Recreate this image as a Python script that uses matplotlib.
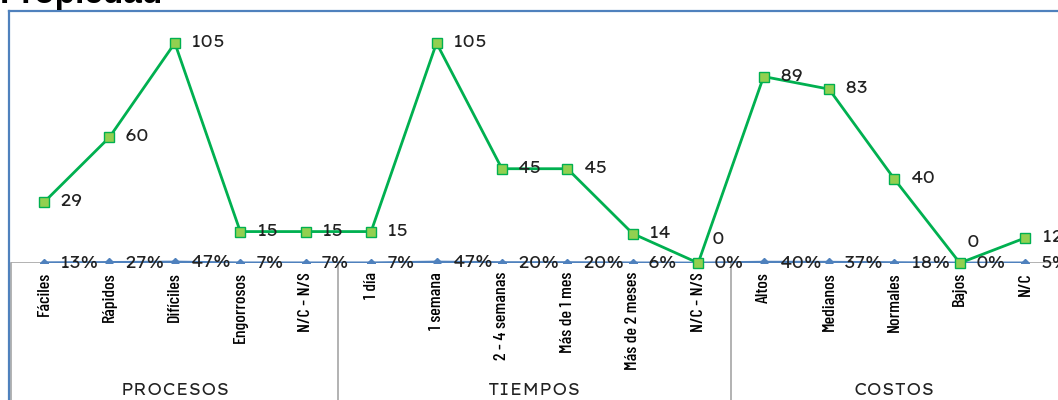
import matplotlib
matplotlib.use("Agg")
import matplotlib.pyplot as plt
from matplotlib.lines import Line2D

# data
categorias = ["Fáciles", "Rápidos", "Difíciles", "Engorrosos", "N/C - N/S",
              "1 día", "1 semana", "2 - 4 semanas", "Más de 1 mes", "Más de 2 meses", "N/C - N/S",
              "Altos", "Medianos", "Normales", "Bajos", "N/C"]
grupos = ["PROCESOS", "TIEMPOS", "COSTOS"]
grupo_tam = [5, 6, 5]
cantidad = [29, 60, 105, 15, 15, 15, 105, 45, 45, 14, 0, 89, 83, 40, 0, 12]
porcentaje = [0.13, 0.27, 0.47, 0.07, 0.07, 0.07, 0.47, 0.20, 0.20, 0.06, 0.00,
              0.40, 0.37, 0.18, 0.00, 0.05]

ancha = ["Lexend Giga", "Lexend Exa", "Encode Sans Expanded", "DejaVu Sans"]
estrecha = ["Barlow Condensed", "Asap Condensed", "DejaVu Sans"]

W, H = 1058, 400
fig = plt.figure(figsize=(W / 100, H / 100), dpi=100)
ax = fig.add_axes([11.3 / W, 137 / H, (W - 11.3) / W, 251.4 / H])

x = list(range(len(categorias)))
ax.axhline(0, color="#A6A6A6", lw=1.2, zorder=1)
ax.plot(x, porcentaje, color="#4F81BD", lw=2, marker="D", markersize=4.5,
        markerfacecolor="#4F81BD", markeredgecolor="#4F81BD", zorder=3)
ax.plot(x, cantidad, color="#00B050", lw=2, marker="s", markersize=7.5,
        markerfacecolor="#92D050", markeredgecolor="#00B050", zorder=4, clip_on=False)

ax.set_xlim(-0.5, len(categorias) - 0.5)
ax.set_ylim(0, 120)
for s in ax.spines.values():
    s.set_visible(False)
ax.set_yticks([])
ax.set_xticks(x)
ax.set_xticklabels(categorias, rotation=90, fontsize=13, fontweight="medium", family=estrecha)
ax.tick_params(axis="x", length=0, pad=6.5)

# etiquetas de datos
for i, (c, p) in enumerate(zip(cantidad, porcentaje)):
    off = (11, 0)
    if c == 0 and i == 10:
        off = (10, 16.5)
    elif c == 0:
        off = (5, 14.5)
    ax.annotate(str(c), (i, c), xytext=off, textcoords="offset points",
                ha="left", va="center", fontsize=12.5, color="#222222", zorder=5, family=ancha)
    ax.annotate(f"{round(p * 100)}%", (i, p), xytext=(11, -1), textcoords="offset points",
                ha="left", va="center", fontsize=12.5, color="#222222", zorder=5, family=ancha)

# separadores y nombres de grupo
trans = ax.get_xaxis_transform()
borde = -0.5
for g, n in zip(grupos, grupo_tam):
    ax.add_line(Line2D([borde, borde], [0, -0.6], transform=trans, color="#A6A6A6",
                       lw=1.2, clip_on=False))
    ax.text(borde + n / 2, -0.509, g, transform=trans, ha="center", va="center",
            fontsize=11.5, color="#222222", family=ancha)
    borde += n

# marco y titulo
fig.add_artist(Line2D([9 / W, 1], [1 - 10.5 / H] * 2, color="#4F81BD", lw=1.6))
fig.add_artist(Line2D([9 / W, 9 / W], [0, 1 - 10.5 / H], color="#4F81BD", lw=1.6))
fig.text(0, 1 - 3 / H, "Propiedad", fontsize=24, fontweight="bold",
         family=["Liberation Sans", "DejaVu Sans"], va="baseline", ha="left")

fig.savefig("out.png", dpi=100)
